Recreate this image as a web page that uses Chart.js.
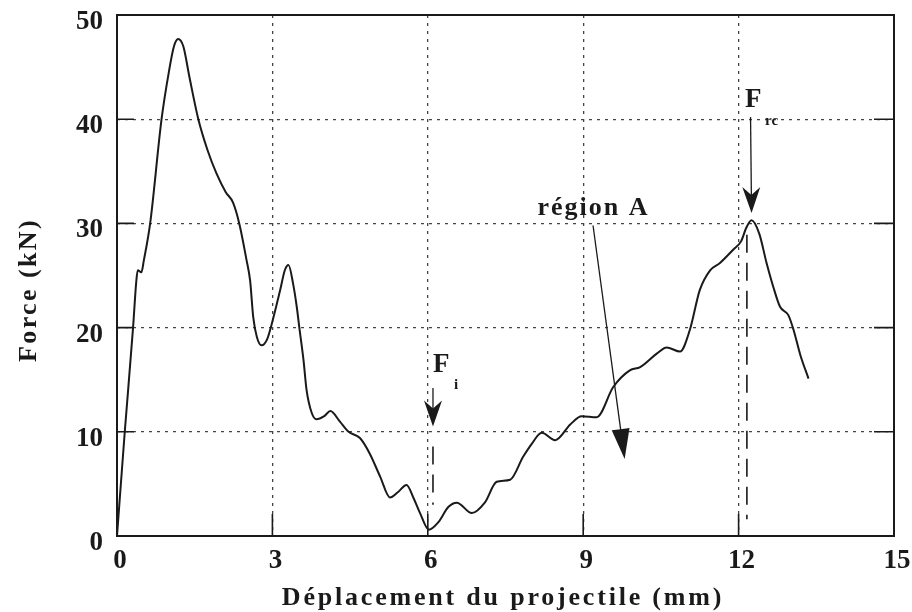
<!DOCTYPE html>
<html>
<head>
<meta charset="utf-8">
<script src="https://cdn.jsdelivr.net/npm/chart.js@4.4.1/dist/chart.umd.min.js"></script>
<style>
  html, body { margin: 0; padding: 0; background: #ffffff; }
  #wrap { width: 912px; height: 612px; }
</style>
</head>
<body>
<div id="wrap"><canvas id="chart" width="912" height="612"></canvas></div>
<script>
// Displacement of the projectile (mm) and measured force (kN)
const displacement = [
  0, 0.15, 0.31, 0.37, 0.40, 0.47, 0.52, 0.64, 0.86, 1.00, 1.10, 1.18, 1.28, 1.40,
  1.57, 1.75, 1.92, 2.10, 2.24, 2.36, 2.50, 2.57, 2.63, 2.70, 2.79, 2.90, 2.99, 3.15,
  3.24, 3.31, 3.40, 3.47, 3.52, 3.60, 3.66, 3.76, 3.85, 4.00, 4.12, 4.30, 4.47, 4.69,
  4.88, 5.08, 5.27, 5.42, 5.59, 5.72, 5.85, 6.02, 6.20, 6.40, 6.56, 6.85, 7.10, 7.33,
  7.59, 7.84, 8.00, 8.20, 8.46, 8.75, 8.97, 9.26, 9.58, 9.90, 10.10, 10.42, 10.61,
  10.87, 11.06, 11.25, 11.45, 11.64, 11.90, 12.05, 12.15, 12.25, 12.40, 12.54, 12.67,
  12.80, 12.96, 13.06, 13.19, 13.35
];
const force = [
  0, 10, 20, 24.3, 25.5, 25.3, 26.5, 30, 40, 44.5, 47, 47.7, 47, 44,
  40, 37, 34.8, 33, 32, 30, 26.5, 24.5, 21, 19.1, 18.3, 18.9, 20.4, 23.6,
  25.5, 26, 24.2, 22, 20, 16.9, 14, 11.8, 11.2, 11.5, 12, 11, 10, 9.4,
  7.9, 5.7, 3.7, 4.2, 4.9, 3.7, 2.2, 0.6, 1.3, 2.8, 3.2, 2.2, 3.2, 5.2,
  5.4, 7.6, 8.8, 9.9, 9.2, 10.7, 11.5, 11.4, 14.3, 15.9, 16.2, 17.5, 18.1,
  17.7, 19.8, 23.6, 25.5, 26.2, 27.5, 28.3, 29.6, 30.3, 29, 26.2, 23.9,
  22, 21.2, 19.8, 17.4, 15.1
];
const xTickValues = [0, 3, 6, 9, 12, 15];
const yTickValues = [0, 10, 20, 30, 40, 50];
const xTitle = 'Déplacement du projectile (mm)';
const yTitle = 'Force (kN)';

// Annotated points, in data units
const fiMark = { x: 6.1, arrowTop: 14.2, arrowTip: 10.5, dashTop: 8.6, dashBottom: 3.0 };
const frcMark = { x: 12.25, arrowTop: 40.2, arrowTip: 31.0, dashX: 12.16, dashTop: 28.9, dashBottom: 1.6 };
const regionA = { labelX: 9.2, labelY: 31.8, fromX: 9.19, fromY: 29.8, toX: 9.8, toY: 7.4 };

const serif = '"Liberation Serif", "DejaVu Serif", serif';
const ink = '#1a1a1a';

function drawArrow(ctx, x1, y1, x2, y2, headLen, headHalf, notch) {
  const ang = Math.atan2(y2 - y1, x2 - x1);
  const cos = Math.cos(ang), sin = Math.sin(ang);
  const bx = x2 - headLen * cos, by = y2 - headLen * sin;
  ctx.beginPath();
  ctx.moveTo(x1, y1);
  ctx.lineTo(x2 - (headLen * 0.6) * cos, y2 - (headLen * 0.6) * sin);
  ctx.stroke();
  ctx.beginPath();
  ctx.moveTo(x2, y2);
  ctx.lineTo(bx - headHalf * sin, by + headHalf * cos);
  ctx.lineTo(x2 - (headLen - notch) * cos, y2 - (headLen - notch) * sin);
  ctx.lineTo(bx + headHalf * sin, by - headHalf * cos);
  ctx.closePath();
  ctx.fill();
}

const decorations = {
  id: 'decorations',
  afterDraw(chart) {
    const ctx = chart.ctx;
    const a = chart.chartArea;
    const xs = chart.scales.x, ys = chart.scales.y;
    ctx.save();

    // inner solid tick marks
    ctx.strokeStyle = ink;
    ctx.lineWidth = 1.6;
    ctx.setLineDash([]);
    ctx.beginPath();
    yTickValues.forEach(v => {
      const py = ys.getPixelForValue(v);
      ctx.moveTo(a.left, py); ctx.lineTo(a.left + 17, py);
      ctx.moveTo(a.right, py); ctx.lineTo(a.right - 20, py);
    });
    xTickValues.forEach(v => {
      const px = xs.getPixelForValue(v);
      ctx.moveTo(px, a.bottom); ctx.lineTo(px, a.bottom - 22);
    });
    ctx.stroke();

    // frame
    ctx.lineWidth = 2;
    ctx.strokeRect(a.left, a.top, a.right - a.left, a.bottom - a.top);

    // long-dash markers
    ctx.lineWidth = 1.6;
    ctx.setLineDash([18, 10]);
    ctx.beginPath();
    let px = xs.getPixelForValue(fiMark.x);
    ctx.moveTo(px, ys.getPixelForValue(fiMark.dashTop));
    ctx.lineTo(px, ys.getPixelForValue(fiMark.dashBottom));
    px = xs.getPixelForValue(frcMark.dashX);
    ctx.moveTo(px, ys.getPixelForValue(frcMark.dashTop));
    ctx.lineTo(px, ys.getPixelForValue(frcMark.dashBottom));
    ctx.stroke();
    ctx.setLineDash([]);

    // arrows
    ctx.fillStyle = ink;
    ctx.lineWidth = 1.3;
    px = xs.getPixelForValue(fiMark.x);
    drawArrow(ctx, px, ys.getPixelForValue(fiMark.arrowTop), px, ys.getPixelForValue(fiMark.arrowTip), 26, 9, 8);
    px = xs.getPixelForValue(frcMark.x);
    drawArrow(ctx, px - 1, ys.getPixelForValue(frcMark.arrowTop), px, ys.getPixelForValue(frcMark.arrowTip), 26, 9, 8);
    drawArrow(ctx, xs.getPixelForValue(regionA.fromX), ys.getPixelForValue(regionA.fromY),
      xs.getPixelForValue(regionA.toX), ys.getPixelForValue(regionA.toY), 30, 9, 0);

    // annotation text
    ctx.fillStyle = ink;
    ctx.textBaseline = 'alphabetic';
    ctx.textAlign = 'left';
    ctx.font = 'bold 27px ' + serif;
    ctx.fillText('F', 433, 372);
    ctx.fillText('F', 745, 107);
    ctx.font = 'bold 15px ' + serif;
    ctx.fillText('i', 454, 389);
    ctx.fillText('rc', 765, 125);
    ctx.textAlign = 'center';
    ctx.font = 'bold 26px ' + serif;
    ctx.letterSpacing = '2px';
    ctx.fillText('région A', xs.getPixelForValue(regionA.labelX), ys.getPixelForValue(regionA.labelY) + 10);

    // axis titles
    ctx.font = 'bold 26px ' + serif;
    ctx.letterSpacing = '2.8px';
    ctx.fillText(xTitle, 503, 605);
    ctx.translate(36, 290);
    ctx.rotate(-Math.PI / 2);
    ctx.letterSpacing = '2.4px';
    ctx.fillText(yTitle, 0, 0);
    ctx.restore();
  }
};

function fixBox(w, h) {
  return function (scale) {
    if (w !== null) scale.width = w;
    if (h !== null) scale.height = h;
    scale.paddingLeft = 0; scale.paddingRight = 0;
    scale.paddingTop = 0; scale.paddingBottom = 0;
  };
}

new Chart(document.getElementById('chart'), {
  type: 'line',
  data: {
    datasets: [{
      data: displacement.map((d, i) => ({ x: d, y: force[i] })),
      borderColor: ink,
      borderWidth: 2,
      pointRadius: 0,
      fill: false,
      cubicInterpolationMode: 'monotone'
    }]
  },
  options: {
    responsive: false,
    animation: false,
    devicePixelRatio: 1,
    layout: { padding: { left: 0, top: 15, right: 18, bottom: 0 } },
    plugins: { legend: { display: false }, tooltip: { enabled: false } },
    scales: {
      x: {
        type: 'linear', min: 0, max: 15,
        afterBuildTicks: s => { s.ticks = xTickValues.map(v => ({ value: v })); },
        afterFit: fixBox(null, 76),
        grid: { color: '#444', lineWidth: 1.3, drawTicks: false },
        border: { display: false, dash: [3, 5] },
        ticks: { color: ink, font: { family: serif, size: 27, weight: 'bold' }, padding: 9, labelOffset: 3, maxRotation: 0 }
      },
      y: {
        type: 'linear', min: 0, max: 50,
        afterBuildTicks: s => { s.ticks = yTickValues.map(v => ({ value: v })); },
        afterFit: fixBox(117, null),
        grid: { color: '#444', lineWidth: 1.3, drawTicks: false },
        border: { display: false, dash: [3, 5] },
        ticks: { color: ink, font: { family: serif, size: 27, weight: 'bold' }, padding: 14, labelOffset: 7 }
      }
    }
  },
  plugins: [decorations]
});
</script>
</body>
</html>
